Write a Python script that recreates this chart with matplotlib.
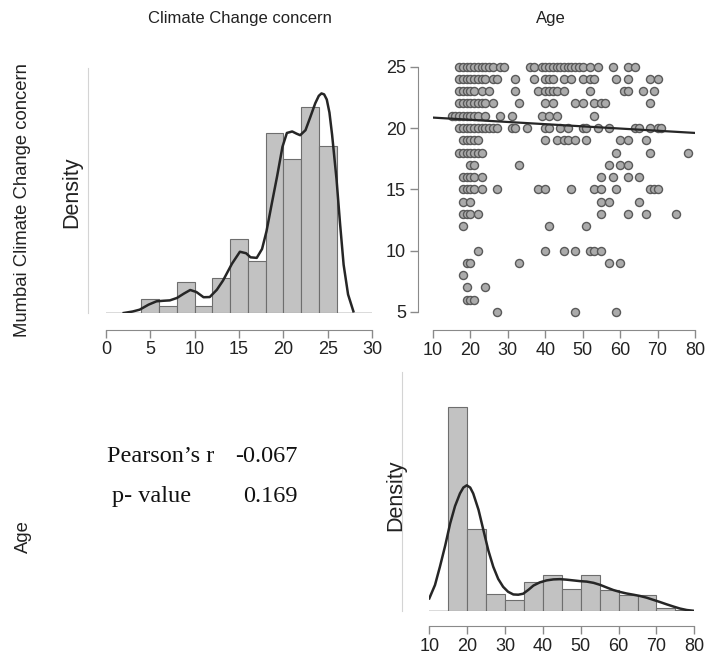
import matplotlib
matplotlib.use("Agg")
import matplotlib.pyplot as plt
import numpy as np

# --- data ---
# climate change concern histogram (bins of width 2, density)
cc_edges = [4, 6, 8, 10, 12, 14, 16, 18, 20, 22, 24, 26]
cc_density = [0.0075, 0.004, 0.0167, 0.004, 0.019, 0.040, 0.028, 0.097, 0.083, 0.111, 0.090]
cc_curve_x = [2.0, 3.0, 3.8, 4.8, 5.7, 6.5, 7.2, 8.0, 8.8, 9.5, 10.2, 11.0, 11.7, 12.5, 13.2,
              14.2, 15.1, 15.8, 16.3, 17.0, 17.6, 18.1, 18.7, 19.3, 19.9, 20.4, 21.0, 21.5,
              21.9, 22.5, 23.0, 23.6, 24.0, 24.3, 24.6, 24.9, 25.2, 25.5, 26.0, 26.4, 26.8,
              27.3, 27.9]
cc_curve_y = [0.0, 0.0008, 0.0018, 0.0045, 0.0063, 0.0066, 0.0068, 0.0081, 0.0105, 0.0124,
              0.0113, 0.0085, 0.0086, 0.0125, 0.0175, 0.0265, 0.0330, 0.0322, 0.0300, 0.0297,
              0.0345, 0.0440, 0.0590, 0.0737, 0.0895, 0.0970, 0.0978, 0.0966, 0.0958, 0.0985,
              0.1050, 0.1130, 0.1170, 0.1183, 0.1178, 0.1150, 0.1080, 0.0960, 0.0720, 0.0480,
              0.0260, 0.0100, 0.0009]

# age histogram (bins of width 5, density)
age_edges = [15, 20, 25, 30, 35, 40, 45, 50, 55, 60, 65, 70, 75, 80]
age_density = [0.0826, 0.0334, 0.0067, 0.0044, 0.0119, 0.0146, 0.0089, 0.0146, 0.0085,
               0.0065, 0.0065, 0.0011, 0.0004]
age_curve_x = [10, 11.5, 12.8, 14.2, 15.5, 16.8, 18.1, 19.0, 19.9, 20.8, 21.6, 23.0, 24.3,
               25.6, 26.9, 28.2, 29.5, 30.8, 32.2, 33.5, 34.8, 36.2, 37.5, 39.2, 41.0, 42.8,
               44.5, 46.2, 48.0, 49.8, 51.6, 53.4, 55.1, 56.9, 58.6, 60.4, 62.1, 63.9, 65.6,
               67.4, 69.2, 71.0, 72.7, 74.5, 76.2, 78.0, 79.7]
age_curve_y = [0.0051, 0.0105, 0.0179, 0.0265, 0.0354, 0.0425, 0.0476, 0.0500, 0.0509,
               0.0500, 0.0476, 0.0410, 0.0327, 0.0245, 0.0179, 0.0130, 0.0098, 0.0078,
               0.0067, 0.0066, 0.0070, 0.0086, 0.0103, 0.0116, 0.0124, 0.0128, 0.0129,
               0.0127, 0.0124, 0.0121, 0.0119, 0.0114, 0.0106, 0.0095, 0.0085, 0.0077,
               0.0071, 0.0066, 0.0061, 0.0054, 0.0045, 0.0036, 0.0027, 0.0018, 0.0010,
               0.0004, 0.0001]

# scatter: ages observed at each climate change concern score
ages_by_score = {
    25: [17, 18, 19, 20, 21, 22, 23, 24, 25, 26, 28, 29, 36, 37, 39, 40, 41, 42, 43, 44, 45,
         46, 47, 48, 49, 50, 52, 54, 58, 62, 64],
    24: [17, 18, 19, 20, 21, 22, 23, 24, 26, 27, 32, 37, 40, 41, 42, 45, 47, 50, 52, 53, 59,
         62, 68, 70],
    23: [17, 18, 19, 20, 21, 23, 25, 32, 38, 40, 41, 42, 43, 45, 52, 61, 62, 66, 69],
    22: [17, 18, 19, 20, 21, 22, 23, 24, 26, 33, 40, 42, 48, 50, 53, 55, 56, 68],
    21: [15, 16, 17, 18, 19, 20, 21, 22, 24, 28, 31, 39, 41, 43, 53],
    20: [17, 18, 19, 20, 21, 22, 23, 24, 25, 26, 27, 31, 32, 35, 40, 41, 44, 46, 50, 51, 54,
         57, 64, 65, 68, 70, 71],
    19: [18, 19, 20, 21, 22, 40, 43, 45, 46, 48, 51, 60, 62, 67],
    18: [17, 18, 19, 20, 21, 22, 23, 59, 68, 78],
    17: [20, 21, 33, 57, 60, 62],
    16: [18, 19, 20, 21, 23, 55, 58, 62, 65],
    15: [18, 19, 20, 21, 23, 27, 38, 40, 47, 53, 55, 59, 68, 69, 70],
    14: [18, 20, 55, 57, 65],
    13: [18, 19, 20, 22, 55, 62, 67, 75],
    12: [18, 41, 51],
    10: [22, 40, 45, 48, 52, 53, 55],
    9: [19, 20, 33, 57, 60],
    8: [18],
    7: [19, 24],
    6: [19, 20, 21],
    5: [27, 48, 59],
}
reg_x = [10, 80]
reg_y = [20.85, 19.6]

pearson_r = "-0.067"
p_value = "0.169"

# --- figure ---
W, H = 707, 659
fig = plt.figure(figsize=(W / 100, H / 100), dpi=100)
plt.rcParams["font.family"] = ["Liberation Sans", "DejaVu Sans"]

def px_axes(x0, y0, x1, y1):
    return fig.add_axes([x0 / W, 1 - y1 / H, (x1 - x0) / W, (y1 - y0) / H])

bar_face = "#c2c2c2"
bar_edge = "#6e6e6e"
line_col = "#262626"
axis_col = "#8a8a8a"
light_col = "#d4d4d4"
tick_kw = dict(length=6, width=1, color=axis_col, labelcolor="#222222", labelsize=13, pad=2.5)


def style_hist(ax, xlim, ylim, xticks, left_off, bottom_off):
    ax.set_xlim(*xlim)
    ax.set_ylim(*ylim)
    for s in ["top", "right"]:
        ax.spines[s].set_visible(False)
    ax.spines["left"].set_color(light_col)
    ax.spines["left"].set_position(("outward", left_off))
    ax.spines["left"].set_bounds(0, ylim[1])
    ax.spines["bottom"].set_color(axis_col)
    ax.spines["bottom"].set_position(("outward", bottom_off))
    ax.spines["bottom"].set_bounds(xlim[0], xlim[1])
    ax.set_yticks([])
    ax.set_xticks(xticks)
    ax.tick_params(axis="x", **tick_kw)
    ax.axhline(0, color=light_col, lw=1.2, zorder=1)
    ax.patch.set_alpha(0)


# top-left: climate change concern histogram
ax1 = px_axes(106, 68, 372, 313)
ax1.bar(cc_edges[:-1], cc_density, width=np.diff(cc_edges), align="edge",
        color=bar_face, edgecolor=bar_edge, linewidth=0.8, zorder=2)
ax1.plot(cc_curve_x, cc_curve_y, color=line_col, lw=1.8, zorder=3)
style_hist(ax1, (0, 30), (0, 0.132), range(0, 31, 5), 13, 12)

# top-right: scatter
ax2 = px_axes(433, 66.7, 695, 312)
sc_age = [a for s in ages_by_score for a in ages_by_score[s]]
sc_cc = [s for s in ages_by_score for a in ages_by_score[s]]
ax2.plot(sc_age, sc_cc, "o", ms=5.8, mfc="#ababab", mec="#5a5a5a", mew=1.0,
         clip_on=False, zorder=2)
ax2.plot(reg_x, reg_y, color=line_col, lw=1.6, zorder=3)
ax2.set_xlim(10, 80)
ax2.set_ylim(5, 25)
for s in ["top", "right"]:
    ax2.spines[s].set_visible(False)
ax2.spines["left"].set_position(("outward", 11))
ax2.spines["bottom"].set_position(("outward", 13))
ax2.spines["left"].set_color(axis_col)
ax2.spines["bottom"].set_color(axis_col)
ax2.set_xticks(range(10, 81, 10))
ax2.set_yticks(range(5, 26, 5))
ax2.tick_params(axis="both", **tick_kw)
ax2.patch.set_alpha(0)

# bottom-right: age histogram
ax3 = px_axes(429.3, 372, 694.3, 611)
ax3.bar(age_edges[:-1], age_density, width=np.diff(age_edges), align="edge",
        color=bar_face, edgecolor=bar_edge, linewidth=0.8, zorder=2)
ax3.plot(age_curve_x, age_curve_y, color=line_col, lw=1.8, zorder=3)
style_hist(ax3, (10, 80), (0, 0.0968), range(10, 81, 10), 20, 11)

# labels
lab_kw = dict(color="#222222", ha="center", va="center")
fig.text(240 / W, 1 - 18 / H, "Climate Change concern", fontsize=12, **lab_kw)
fig.text(551 / W, 1 - 18 / H, "Age", fontsize=12, **lab_kw)
fig.text(23 / W, 1 - 200 / H, "Mumbai Climate Change concern", rotation=90, fontsize=13.3,
         **lab_kw)
fig.text(23 / W, 1 - 537 / H, "Age", rotation=90, fontsize=13.3, **lab_kw)
fig.text(72 / W, 1 - 192 / H, "Density", rotation=90, fontsize=15.5, **lab_kw)
fig.text(396 / W, 1 - 495 / H, "Density", rotation=90, fontsize=15.5, **lab_kw)

# correlation table
st_kw = dict(fontsize=17.5, family=["Liberation Serif", "DejaVu Serif"], color="#111111",
             va="baseline")
fig.text(107 / W, 1 - 462 / H, "Pearson\u2019s r", ha="left", **st_kw)
fig.text(298 / W, 1 - 462 / H, pearson_r, ha="right", **st_kw)
fig.text(112 / W, 1 - 502 / H, "p- value", ha="left", **st_kw)
fig.text(298 / W, 1 - 502 / H, p_value, ha="right", **st_kw)

fig.savefig("out.png", dpi=100)
